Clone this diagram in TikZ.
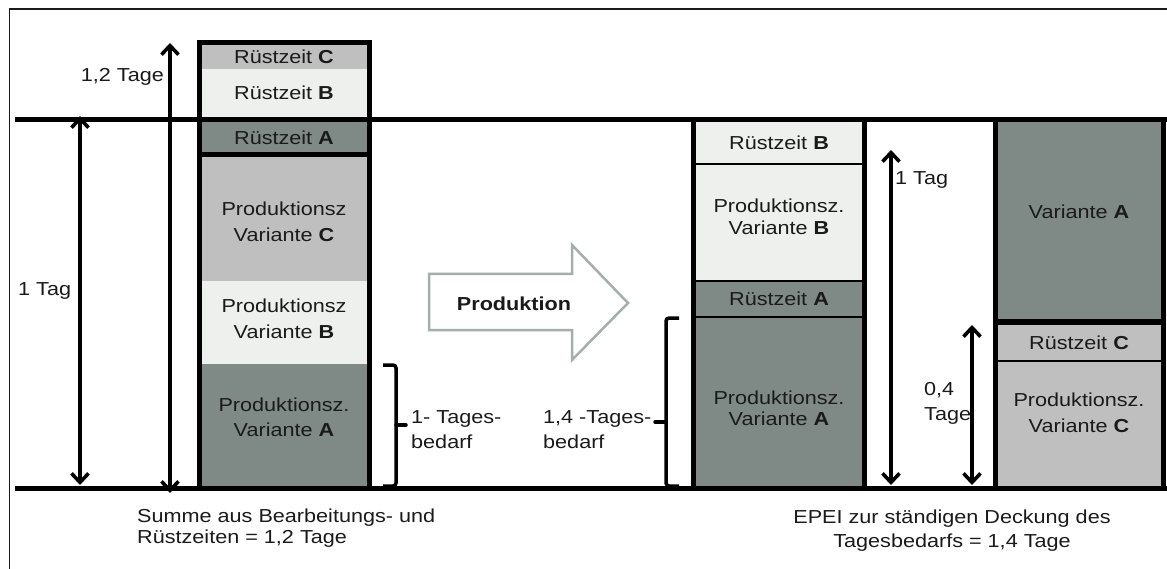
\documentclass[tikz,border=0pt]{standalone}
\usepackage{fontspec}
\setmainfont[FakeStretch=1.15]{Liberation Sans}
\usetikzlibrary{arrows.meta}

\definecolor{darkseg}{HTML}{7F8A87}
\definecolor{midseg}{HTML}{BFBFBF}
\definecolor{lightseg}{HTML}{EEF0EE}
\definecolor{ink}{HTML}{1A1A1A}
\definecolor{hollowgray}{HTML}{A6AEAB}

\newcommand\txtsz[1]{\fontsize{18.8bp}{#1}\selectfont}

\tikzset{
  lbl/.style={inner sep=0pt, text=ink, align=center, font=\txtsz{25bp}},
  boxedge/.style={line width=5bp, draw=black},
  thinsep/.style={line width=1.3bp, draw=black},
  dayline/.style={line width=5bp, draw=black},
  dimarrow/.style={line width=3.2bp, draw=black,
    arrows={Straight Barb[length=9bp,width=17bp,line width=3.6bp]-Straight Barb[length=9bp,width=17bp,line width=3.6bp]}},
  bracket/.style={line width=3.5bp, draw=black, rounded corners=3bp},
  hollow/.style={line width=2.5bp, draw=hollowgray, fill=white, line join=miter},
}

\begin{document}
\begin{tikzpicture}[x=1bp, y=-1bp]
\useasboundingbox (0,0) rectangle (1167,569);

% outer frame
\draw[line width=1.2bp, ink] (9.5,569) -- (9.5,9) -- (1167,9);

% ---------- left column: all set-up and processing times ----------
\fill[midseg]   (199,43)  rectangle (369,69);
\fill[lightseg] (199,69)  rectangle (369,120);
\fill[darkseg]  (199,120) rectangle (369,155);
\fill[midseg]   (199,155) rectangle (369,281);
\fill[lightseg] (199,281) rectangle (369,364);
\fill[darkseg]  (199,364) rectangle (369,488);
\draw[boxedge] (199,155) -- (369,155);
\draw[boxedge] (199,43) rectangle (369,488);

\node[lbl] (lRC) at (284,57)  {Rüstzeit \textbf{C}};
\node[lbl] (lRB) at (284,93)  {Rüstzeit \textbf{B}};
\node[lbl] (lRA) at (284,138) {Rüstzeit \textbf{A}};
\node[lbl, font=\txtsz{26bp}] (lPC) at (284,222) {Produktionsz\\Variante \textbf{C}};
\node[lbl, font=\txtsz{26bp}] (lPB) at (284,319) {Produktionsz\\Variante \textbf{B}};
\node[lbl, font=\txtsz{25bp}] (lPA) at (284,417) {Produktionsz.\\Variante \textbf{A}};

% ---------- middle column ----------
\fill[lightseg] (693,120) rectangle (864.5,281);
\fill[darkseg]  (693,281) rectangle (864.5,488);
\draw[thinsep] (693,164) -- (864.5,164);
\draw[thinsep] (693,281) -- (864.5,281);
\draw[thinsep] (693,317) -- (864.5,317);
\draw[boxedge] (693,120) rectangle (864.5,488);

\node[lbl] (mRB) at (779,143) {Rüstzeit \textbf{B}};
\node[lbl, font=\txtsz{22bp}] (mPB) at (779,217) {Produktionsz.\\Variante \textbf{B}};
\node[lbl] (mRA) at (779,299) {Rüstzeit \textbf{A}};
\node[lbl, font=\txtsz{21bp}] (mPA) at (779,408) {Produktionsz.\\Variante \textbf{A}};

% ---------- right column ----------
\fill[darkseg] (995,120) rectangle (1163,321.5);
\fill[midseg]  (995,321.5) rectangle (1163,488);
\draw[thinsep] (995,361) -- (1163,361);
\draw[line width=6bp] (995,321.5) -- (1163,321.5);
\draw[boxedge] (995,120) rectangle (1163,488);

\node[lbl] (rVA) at (1079,212) {Variante \textbf{A}};
\node[lbl] (rRC) at (1079,343) {Rüstzeit \textbf{C}};
\node[lbl, font=\txtsz{26bp}] (rPC) at (1079,413) {Produktionsz.\\Variante \textbf{C}};

% ---------- horizontal day lines ----------
\coordinate (topL) at (15,119.7);
\coordinate (topR) at (1167,119.7);
\coordinate (botL) at (15,488.3);
\coordinate (botR) at (1167,488.3);
\draw[line width=4.5bp] (topL) -- (topR);
\draw[dayline] (botL) -- (botR);

% ---------- dimension arrows ----------
\coordinate (a1t) at (80,116);  \coordinate (a1b) at (80,485);
\coordinate (a2t) at (170,43);  \coordinate (a2b) at (170,493);
\coordinate (a3t) at (891,150); \coordinate (a3b) at (891,485);
\coordinate (a4t) at (972,325); \coordinate (a4b) at (972,485);
\draw[dimarrow] (a1t) -- (a1b);
\draw[dimarrow] (a2t) -- (a2b);
\draw[dimarrow] (a3t) -- (a3b);
\draw[dimarrow] (a4t) -- (a4b);

\node[lbl, anchor=east] (t12) at (164,77) {1,2 Tage};
\node[lbl, anchor=west] (t1l) at (18,291) {1 Tag};
\node[lbl, anchor=west] (t1m) at (895,180) {1 Tag};
\node[lbl, anchor=west, align=left, font=\txtsz{25bp}] (t04) at (924,403) {0,4\\Tage};

% ---------- demand brackets ----------
\draw[bracket] (383,365) -- (396,365) -- (396,486) -- (383,486);
\draw[line width=3.5bp, line cap=round] (396,425) -- (406,425);
\node[lbl, anchor=west, align=left, font=\txtsz{25bp}] (b1) at (411,430) {1- Tages-\\bedarf};

\draw[bracket] (679,318) -- (666,318) -- (666,486) -- (679,486);
\draw[line width=3.5bp, line cap=round] (666,422) -- (655,422);
\node[lbl, anchor=west, align=left, font=\txtsz{25bp}] (b2) at (543,430) {1,4 -Tages-\\bedarf};

% ---------- hollow production arrow ----------
\draw[hollow] (429,274) -- (572,274) -- (572,245) -- (628,303) -- (572,360)
  -- (572,330) -- (429,330) -- cycle;
\node[lbl] (prod) at (514,304) {\textbf{Produktion}};

% ---------- captions ----------
\node[lbl, anchor=west, align=left, font=\txtsz{21bp}] (capL) at (137,528)
  {Summe aus Bearbeitungs- und\\Rüstzeiten = 1,2 Tage};
\node[lbl, align=center, font=\txtsz{24bp}] (capR) at (952,531)
  {EPEI zur ständigen Deckung des\\Tagesbedarfs = 1,4 Tage};
\end{tikzpicture}
\end{document}
